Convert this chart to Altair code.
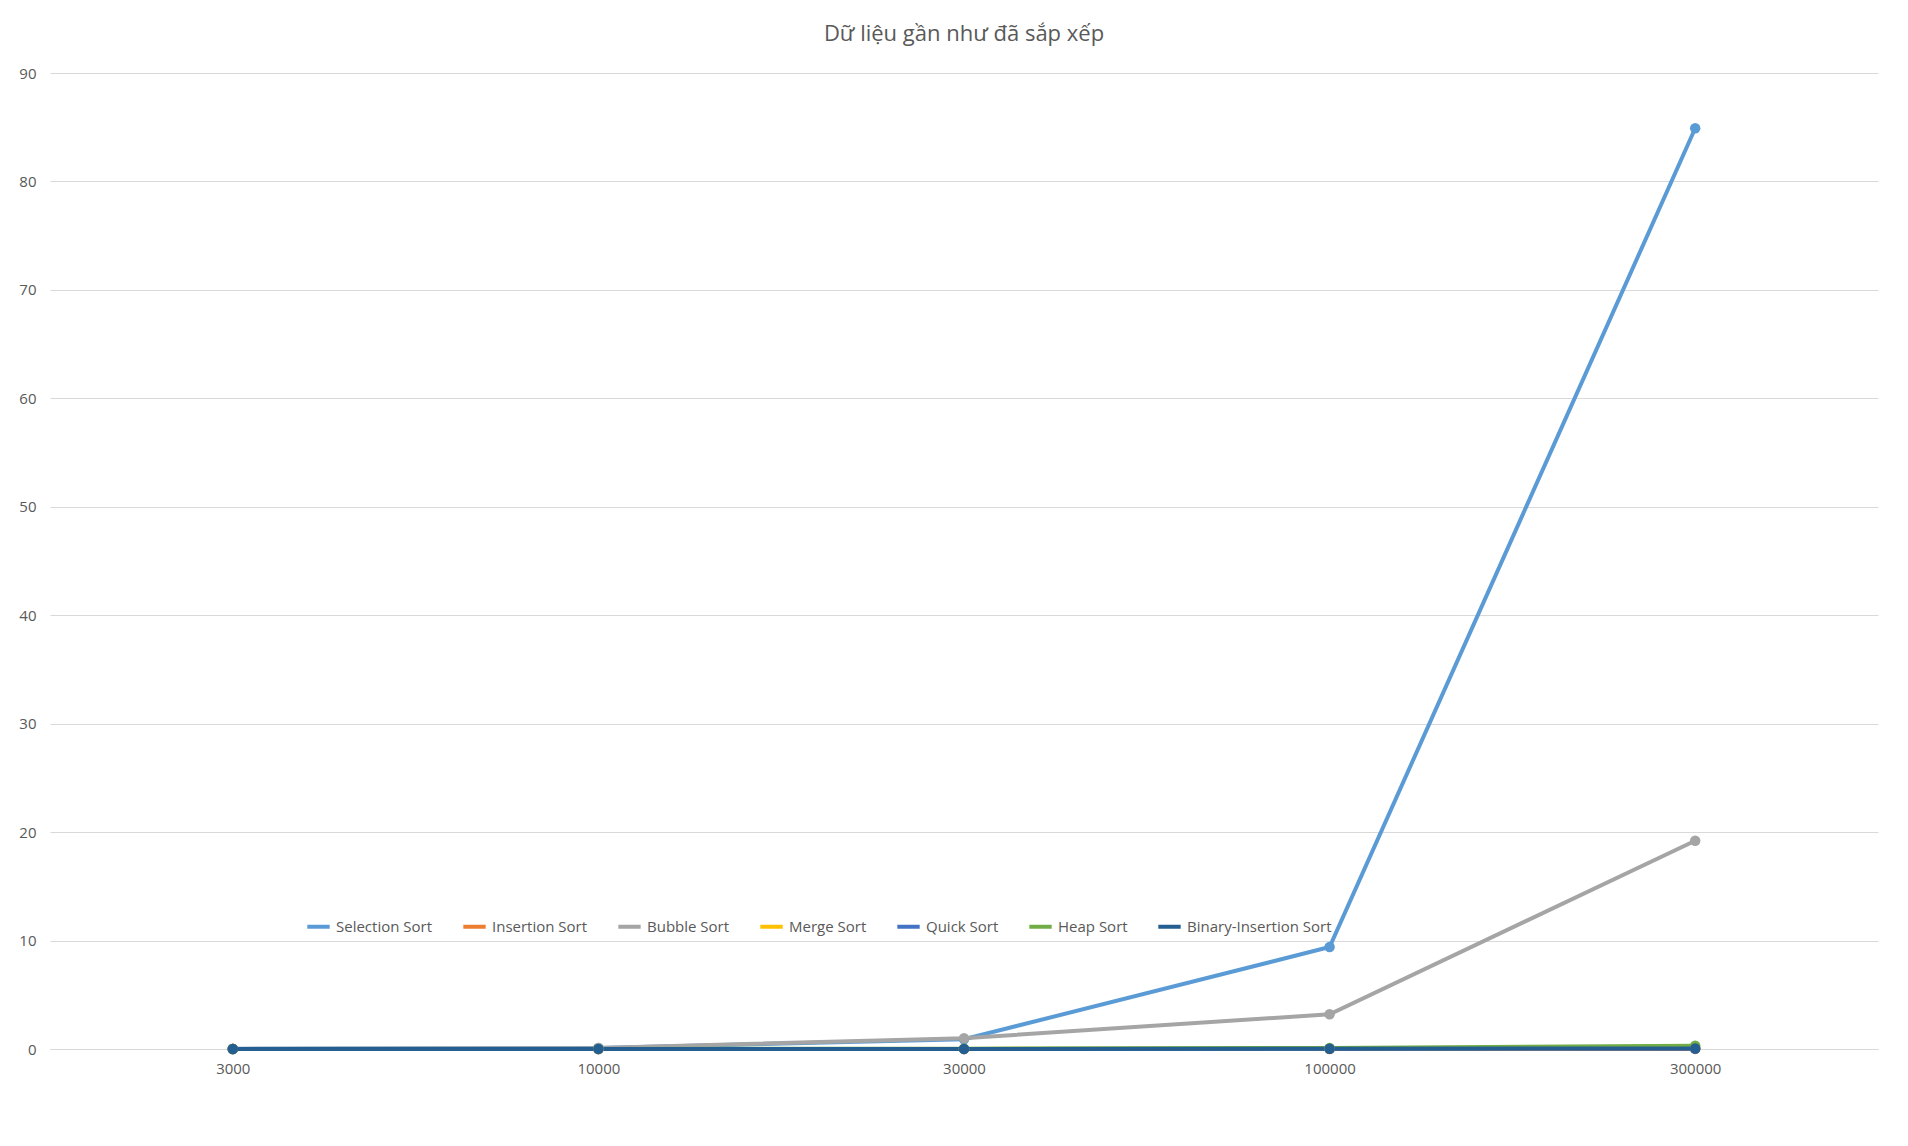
import pandas as pd
import altair as alt

sizes = ['3000', '10000', '30000', '100000', '300000']
series = ['Selection Sort', 'Insertion Sort', 'Bubble Sort', 'Merge Sort',
          'Quick Sort', 'Heap Sort', 'Binary-Insertion Sort']
values = {
    'Selection Sort': [0.01, 0.1, 0.9, 9.4, 84.9],
    'Insertion Sort': [0.0, 0.0, 0.0, 0.0, 0.01],
    'Bubble Sort': [0.02, 0.1, 1.0, 3.2, 19.2],
    'Merge Sort': [0.0, 0.0, 0.01, 0.03, 0.1],
    'Quick Sort': [0.0, 0.0, 0.0, 0.02, 0.05],
    'Heap Sort': [0.0, 0.01, 0.03, 0.1, 0.3],
    'Binary-Insertion Sort': [0.0, 0.01, 0.01, 0.02, 0.05],
}
colors = ['#5B9BD5', '#ED7D31', '#A5A5A5', '#FFC000', '#4472C4', '#70AD47', '#255E91']

rows = []
for s in series:
    for i, n in enumerate(sizes):
        rows.append({'n': n, 'Thuật toán': s, 'Thời gian': values[s][i], 'order': series.index(s)})
df = pd.DataFrame(rows)

chart = alt.Chart(df).mark_line(
    strokeWidth=4, point=alt.OverlayMarkDef(size=110, filled=True)
).encode(
    x=alt.X('n:N', sort=sizes, title=None,
            scale=alt.Scale(type='point', padding=0.5),
            axis=alt.Axis(labelAngle=0, labelFontSize=15, labelColor='#595959',
                          domainColor='#D9D9D9', ticks=False, labelPadding=12)),
    y=alt.Y('Thời gian:Q', title=None,
            scale=alt.Scale(domain=[0, 90], nice=False),
            axis=alt.Axis(values=list(range(0, 91, 10)), labelFontSize=15,
                          labelColor='#595959', domain=False, ticks=False,
                          gridColor='#D9D9D9', labelPadding=14)),
    color=alt.Color('Thuật toán:N', sort=series,
                    scale=alt.Scale(domain=series, range=colors),
                    legend=alt.Legend(orient='none', legendX=255, legendY=840,
                                      title=None, direction='horizontal',
                                      labelFontSize=15, labelColor='#595959',
                                      symbolType='stroke', symbolStrokeWidth=4,
                                      symbolSize=500, columnPadding=22)),
    order='order:Q'
).properties(
    width=1890, height=1128,
    autosize=alt.AutoSizeParams(type='fit', contains='padding'),
    padding={'left': 10, 'right': 20, 'top': 15, 'bottom': 60},
    title=alt.TitleParams('Dữ liệu gần như đã sắp xếp', fontSize=22,
                          fontWeight='normal', color='#595959', offset=20)
).configure(font='Open Sans', background='white').configure_view(strokeWidth=0)

chart.save("out.html", embed_options={"renderer": "svg", "actions": False})
